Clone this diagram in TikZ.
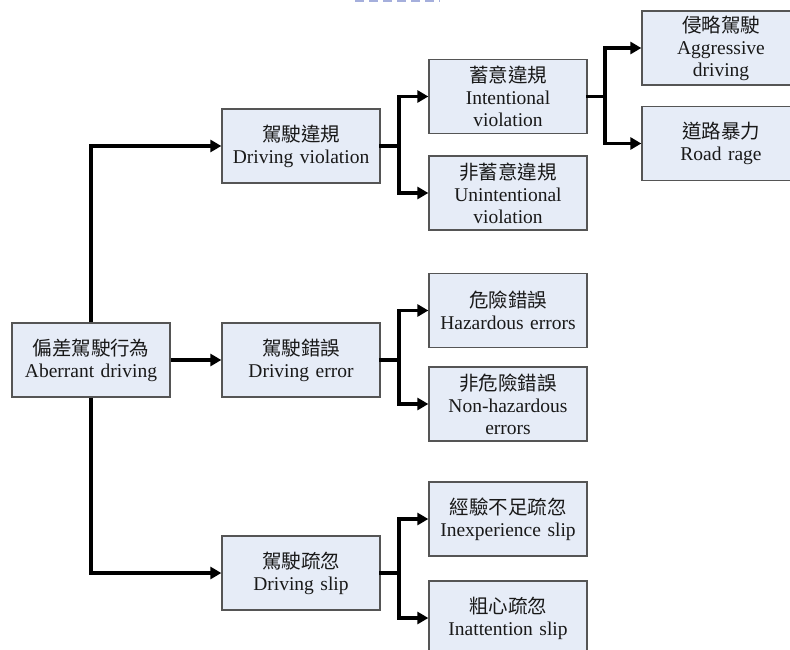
\documentclass[tikz,border=0pt]{standalone}
\usepackage{fontspec}
\setmainfont{Liberation Serif}
\newfontfamily\cjk{Noto Sans CJK TC}
\usetikzlibrary{arrows.meta}
\definecolor{boxfill}{RGB}{230,236,247}
\definecolor{boxline}{RGB}{85,85,85}
\definecolor{txt}{RGB}{25,25,25}
\definecolor{topblue}{RGB}{165,175,220}
\tikzset{
  box/.style={draw=boxline, line width=1.3pt, fill=boxfill, minimum width=158pt, minimum height=74pt,
    text width=156pt, align=center, inner sep=0pt, text=txt,
    font=\fontsize{19.5}{22}\selectfont},
  conn/.style={line width=3.2pt, line cap=rect},
  arr/.style={line width=3.2pt, -{Triangle[length=11pt,width=12pt]}}
}
\newcommand{\zh}[1]{{\cjk\fontsize{19.5}{22}\selectfont #1}}
\begin{document}
\begin{tikzpicture}[x=1pt,y=-1pt]
\useasboundingbox (0,0) rectangle (790,650);
\clip (0,0) rectangle (790,650);
\fill[white] (0,0) rectangle (790,650);
\draw[topblue, line width=4pt, dash pattern=on 9pt off 5pt] (355,0) -- (440,0);

\node[box] (ab) at (91,360) {\zh{偏差駕駛行為}\\Aberrant driving};
\node[box] (dv) at (301,146) {\zh{駕駛違規}\\Driving violation};
\node[box] (de) at (301,360) {\zh{駕駛錯誤}\\Driving error};
\node[box] (ds) at (301,573) {\zh{駕駛疏忽}\\Driving slip};
\node[box] (iv) at (508,96.5) {\zh{蓄意違規}\\Intentional\\violation};
\node[box] (uv) at (508,193) {\zh{非蓄意違規}\\Unintentional\\violation};
\node[box] (he) at (508,310.5) {\zh{危險錯誤}\\Hazardous errors};
\node[box] (nh) at (508,404) {\zh{非危險錯誤}\\Non-hazardous\\errors};
\node[box] (ie) at (508,519) {\zh{經驗不足疏忽}\\Inexperience slip};
\node[box] (ia) at (508,618) {\zh{粗心疏忽}\\Inattention slip};
\node[box] (ag) at (721,48) {\zh{侵略駕駛}\\Aggressive\\driving};
\node[box] (rr) at (721,143.5) {\zh{道路暴力}\\Road rage};

\coordinate (j1) at (399,146);
\coordinate (j2) at (399,360);
\coordinate (j3) at (399,573);
\coordinate (j4) at (605,96.5);

\draw[arr] (ab.north) |- (dv.west);
\draw[arr] (ab.east) -- (de.west);
\draw[arr] (ab.south) |- (ds.west);

\draw[conn] (dv.east) -- (j1);
\draw[arr] (j1) |- (iv.west);
\draw[arr] (j1) |- (uv.west);
\draw[conn] (de.east) -- (j2);
\draw[arr] (j2) |- (he.west);
\draw[arr] (j2) |- (nh.west);
\draw[conn] (ds.east) -- (j3);
\draw[arr] (j3) |- (ie.west);
\draw[arr] (j3) |- (ia.west);
\draw[conn] (iv.east) -- (j4);
\draw[arr] (j4) |- (ag.west);
\draw[arr] (j4) |- (rr.west);
\end{tikzpicture}
\end{document}
